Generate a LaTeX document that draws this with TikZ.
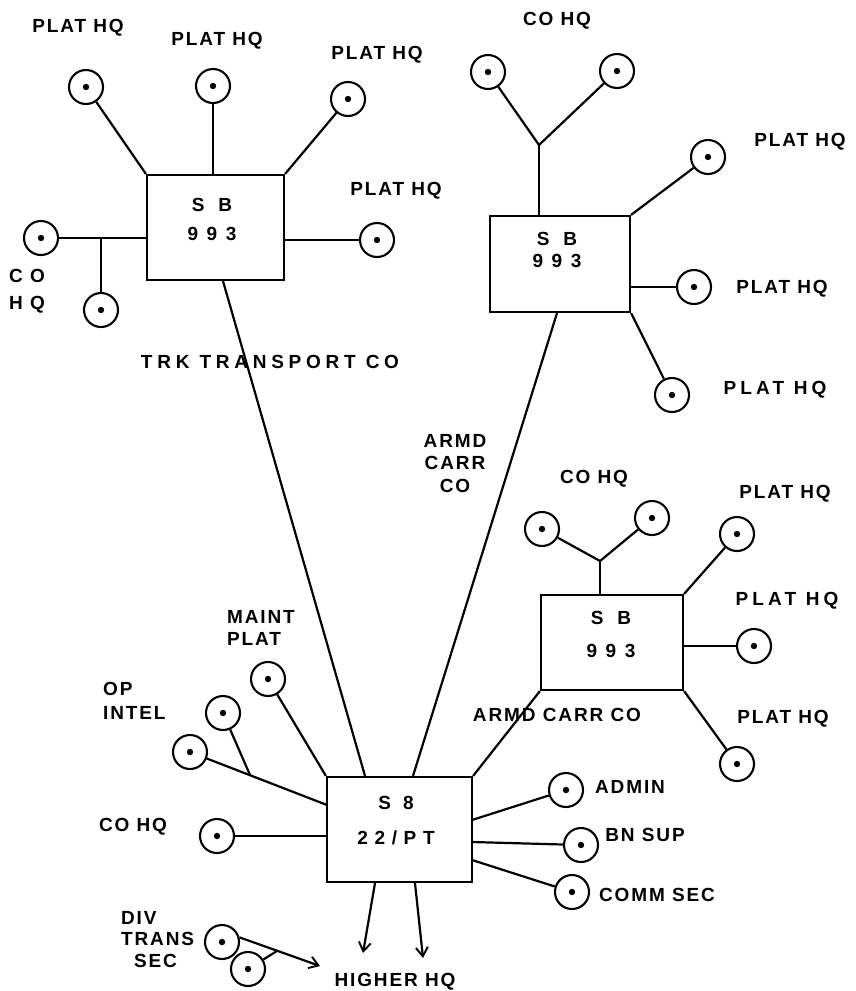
\documentclass[tikz,border=0pt]{standalone}
\usepackage{fontspec}
\setmainfont{Liberation Sans}[LetterSpace=10]
\usetikzlibrary{arrows.meta}
\begin{document}
\begin{tikzpicture}[x=1pt,y=-1pt,line width=2.2pt,
  stn/.style={circle,draw,minimum size=34pt,inner sep=0pt,line width=2.1pt,
    path picture={\fill (path picture bounding box.center) circle (3.2pt);}},
  sbox/.style={draw,rectangle,inner sep=0pt,line width=2.2pt},
  lbl/.style={font=\bfseries\fontsize{19}{22}\selectfont,inner sep=0pt,text height=13.6pt,text depth=0pt},
  mlbl/.style={font=\bfseries\fontsize{19}{#1}\selectfont,inner sep=0pt,anchor=north},
  boxtxt/.style={font=\bfseries\fontsize{19}{#1}\selectfont\addfontfeature{LetterSpace=45},inner sep=0pt,anchor=north,align=center},
  arr/.style={-{Straight Barb[length=9pt,width=12pt,line width=1.9pt]}}
]
\useasboundingbox (0,0) rectangle (855,991);

% ---------- top-left switchboard ----------
\node[sbox,minimum width=137pt,minimum height=105pt] (b1) at (215.5,227.5) {};
\node[boxtxt=29pt] (t1) at (212,197) {S B\\993};
\node[stn] (p1) at (86,87) {};
\node[stn] (p2) at (213,86) {};
\node[stn] (p3) at (348,99) {};
\node[stn] (p4) at (377,240) {};
\node[stn] (co1) at (41,238) {};
\node[stn] (co2) at (101,310) {};
\coordinate (j1) at (101,238);
\draw (p1) -- (b1.north west);
\draw (p2) -- (p2 |- b1.north);
\draw (p3) -- (b1.north east);
\draw (p4) -- (p4 -| b1.east);
\draw (co1) -- (co1 -| b1.west);
\draw (co2) -- (j1);
\node[lbl] (lp1) at (78,26) {PLAT HQ};
\node[lbl] (lp2) at (217,39) {PLAT HQ};
\node[lbl] (lp3) at (377,53) {PLAT HQ};
\node[lbl] (lp4) at (396,189) {PLAT HQ};
\node[mlbl=27pt,align=center] (lco1) at (27,268) {C O\\H Q};
\node[lbl,font=\bfseries\fontsize{19}{22}\selectfont\addfontfeature{LetterSpace=25}] (ltrk) at (270,362) {TRK TRANSPORT CO};

% ---------- top-right switchboard ----------
\node[sbox,minimum width=140pt,minimum height=96pt] (b2) at (560,264) {};
\node[boxtxt=22pt] (t2) at (557,231) {S B\\993};
\node[stn] (q1) at (488,72) {};
\node[stn] (q2) at (617,71) {};
\coordinate (j2) at (539,145);
\node[stn] (q3) at (708,157) {};
\node[stn] (q4) at (694,287) {};
\node[stn] (q5) at (672,395) {};
\draw (q1) -- (j2);
\draw (q2) -- (j2);
\draw (j2) -- (j2 |- b2.north);
\draw (q3) -- (b2.north east);
\draw (q4) -- (q4 -| b2.east);
\draw (q5) -- (b2.south east);
\node[lbl] (lq0) at (557,19) {CO HQ};
\node[lbl] (lq3) at (800,140) {PLAT HQ};
\node[lbl] (lq4) at (782,287) {PLAT HQ};
\node[lbl,font=\bfseries\fontsize{19}{22}\selectfont\addfontfeature{LetterSpace=22}] (lq5) at (775,388) {PLAT HQ};
\node[mlbl=22.5pt,align=center] (larmd) at (455,433) {ARMD\\CARR\\CO};

% ---------- bottom-right switchboard ----------
\node[sbox,minimum width=142pt,minimum height=95pt] (b3) at (612,642.5) {};
\node[boxtxt=33pt] (t3) at (611,610) {S B\\993};
\node[stn] (r1) at (542,529) {};
\node[stn] (r2) at (652,518) {};
\coordinate (j3) at (600,561);
\node[stn] (r3) at (737,534) {};
\node[stn] (r4) at (754,646) {};
\node[stn] (r5) at (737,764) {};
\draw (r1) -- (j3);
\draw (r2) -- (j3);
\draw (j3) -- (j3 |- b3.north);
\draw (r3) -- (b3.north east);
\draw (r4) -- (r4 -| b3.east);
\draw (r5) -- (b3.south east);
\node[lbl] (lr0) at (594,477) {CO HQ};
\node[lbl] (lr3) at (785,492) {PLAT HQ};
\node[lbl,font=\bfseries\fontsize{19}{22}\selectfont\addfontfeature{LetterSpace=22}] (lr4) at (787,599) {PLAT HQ};
\node[lbl] (lr5) at (783,717) {PLAT HQ};
\node[lbl] (lacc) at (557,715) {ARMD CARR CO};

% ---------- main switchboard ----------
\node[sbox,minimum width=145pt,minimum height=105pt] (b0) at (399.5,829.5) {};
\node[boxtxt=35pt,font=\bfseries\fontsize{19}{35}\selectfont\addfontfeature{LetterSpace=35}] (t0) at (396,795) {S 8\\22/PT};
\draw ([xshift=7.5pt]b1.south) -- ([xshift=-34.5pt]b0.north);
\draw ([xshift=-3pt]b2.south) -- ([xshift=13.5pt]b0.north);
\draw (b3.south west) -- (b0.north east);

\node[stn] (a1) at (566,790) {};
\node[stn] (a2) at (581,845) {};
\node[stn] (a3) at (572,892) {};
\coordinate (e1) at (472,820);
\coordinate (e2) at (472,842);
\coordinate (e3) at (472,860);
\draw (e1) -- (a1);
\draw (e2) -- (a2);
\draw (e3) -- (a3);
\node[lbl] (la1) at (630,787) {ADMIN};
\node[lbl] (la2) at (645,835) {BN SUP};
\node[lbl] (la3) at (657,895) {COMM SEC};

\node[stn] (l1) at (217,836) {};
\node[stn] (l2) at (190,752) {};
\node[stn] (l3) at (223,713) {};
\node[stn] (m1) at (268,679) {};
\coordinate (w2) at (327,805);
\coordinate (j4) at (250,775);
\draw (l1) -- (l1 -| b0.west);
\draw (l2) -- (w2);
\draw (l3) -- (j4);
\draw (m1) -- (b0.north west);
\node[lbl] (ll1) at (133,825) {CO HQ};
\node[mlbl=24pt,align=left,anchor=north west] (ll2) at (102,681) {OP\\INTEL};
\node[mlbl=22pt,align=left,anchor=north west] (lm1) at (226,609) {MAINT\\PLAT};

% ---------- to higher HQ ----------
\coordinate (h1) at (363,953);
\coordinate (h2) at (423,958);
\draw[arr] ([xshift=-24.5pt]b0.south) -- (h1);
\draw[arr] ([xshift=15.5pt]b0.south) -- (h2);
\node[lbl] (lh) at (395,980) {HIGHER HQ};

\node[stn] (d1) at (222,942) {};
\node[stn] (d2) at (248,969) {};
\coordinate (hh) at (320,966);
\coordinate (j5) at (277,951);
\draw[arr] (d1.15) -- (hh);
\draw (d2) -- (j5);
\node[mlbl=21.5pt,align=left,anchor=north west] (ld) at (120,910) {DIV\\TRANS\\\hspace*{13pt}SEC};
\end{tikzpicture}
\end{document}
